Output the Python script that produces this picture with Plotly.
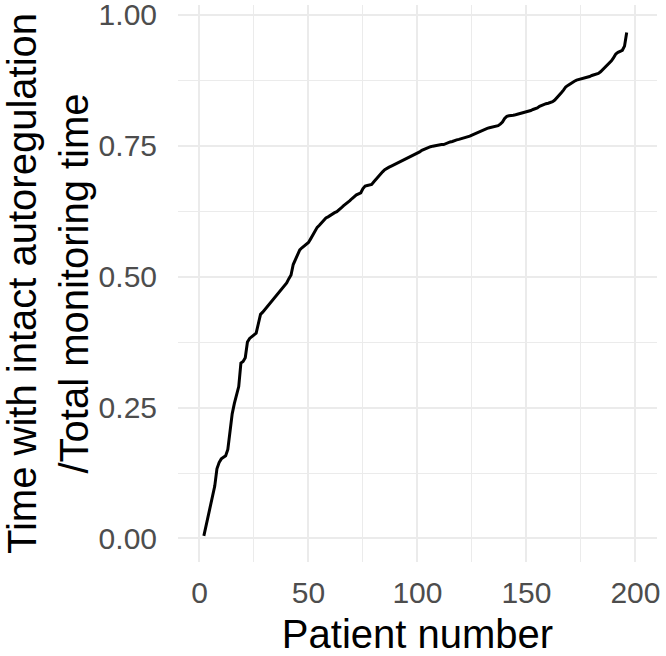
import plotly.graph_objects as go

# Patient number (rank) and sorted fraction of time with intact autoregulation
patient_number = list(range(2, 197))
intact_fraction = [
    0.005, 0.025, 0.045, 0.062, 0.080, 0.100, 0.133, 0.145, 0.152, 0.155,
    0.158, 0.170, 0.205, 0.238, 0.258, 0.272, 0.290, 0.335, 0.338, 0.345,
    0.375, 0.382, 0.385, 0.388, 0.392, 0.410, 0.428, 0.432, 0.437, 0.441,
    0.447, 0.452, 0.456, 0.462, 0.468, 0.472, 0.476, 0.481, 0.488, 0.496,
    0.503, 0.523, 0.532, 0.542, 0.551, 0.555, 0.558, 0.561, 0.565, 0.572,
    0.579, 0.587, 0.594, 0.598, 0.603, 0.608, 0.612, 0.614, 0.617, 0.619,
    0.622, 0.624, 0.627, 0.631, 0.635, 0.638, 0.641, 0.645, 0.649, 0.653,
    0.656, 0.658, 0.660, 0.668, 0.673, 0.674, 0.675, 0.676, 0.681, 0.686,
    0.692, 0.696, 0.700, 0.704, 0.707, 0.709, 0.711, 0.713, 0.715, 0.717,
    0.719, 0.721, 0.723, 0.725, 0.728, 0.730, 0.732, 0.734, 0.736, 0.738,
    0.741, 0.743, 0.745, 0.747, 0.748, 0.749, 0.750, 0.750, 0.751, 0.752,
    0.752, 0.754, 0.755, 0.757, 0.758, 0.760, 0.761, 0.762, 0.763, 0.764,
    0.766, 0.767, 0.768, 0.770, 0.772, 0.774, 0.775, 0.777, 0.779, 0.781,
    0.783, 0.784, 0.785, 0.786, 0.787, 0.788, 0.791, 0.795, 0.802, 0.806,
    0.807, 0.807, 0.808, 0.809, 0.810, 0.811, 0.812, 0.813, 0.815, 0.816,
    0.817, 0.819, 0.820, 0.822, 0.825, 0.827, 0.829, 0.830, 0.831, 0.832,
    0.834, 0.837, 0.841, 0.846, 0.851, 0.856, 0.862, 0.865, 0.868, 0.871,
    0.873, 0.875, 0.876, 0.878, 0.879, 0.880, 0.881, 0.882, 0.884, 0.885,
    0.886, 0.888, 0.891, 0.895, 0.899, 0.903, 0.908, 0.912, 0.918, 0.925,
    0.928, 0.930, 0.932, 0.940, 0.966,
]

x_ticks = [0, 50, 100, 150, 200]
x_minor = [25, 75, 125, 175]
y_ticks = [0.0, 0.25, 0.50, 0.75, 1.00]
y_minor = [0.125, 0.375, 0.625, 0.875]
y_tick_labels = ["0.00", "0.25", "0.50", "0.75", "1.00"]

FONT = "Liberation Sans, Arial, sans-serif"
GRID = "#EBEBEB"

fig = go.Figure()
fig.add_trace(go.Scatter(
    x=patient_number, y=intact_fraction, mode="lines",
    line=dict(color="black", width=3), showlegend=False,
))

fig.update_layout(
    width=666, height=656,
    margin=dict(l=178, r=9, t=5, b=94, autoexpand=False),
    paper_bgcolor="white", plot_bgcolor="white",
    font=dict(family=FONT, color="black"),
    xaxis=dict(
        range=[-9.86, 209.9], tickvals=x_ticks, ticktext=[str(v) for v in x_ticks],
        showgrid=True, gridcolor=GRID, gridwidth=2.2, zeroline=False, showline=False,
        ticks="", tickfont=dict(size=30, color="#4D4D4D", family=FONT),
        ticklabelstandoff=10, ticklabeloverflow="allow",
        minor=dict(tickvals=x_minor, showgrid=True, gridcolor=GRID, gridwidth=1.3),
        title=dict(text="Patient number", font=dict(size=40, color="black", family=FONT), standoff=12),
        automargin=False,
    ),
    yaxis=dict(
        range=[-0.0449, 1.0185], tickvals=y_ticks, ticktext=y_tick_labels,
        showgrid=True, gridcolor=GRID, gridwidth=2.2, zeroline=False, showline=False,
        ticks="", tickfont=dict(size=30, color="#4D4D4D", family=FONT),
        ticklabelstandoff=20, ticklabeloverflow="allow",
        minor=dict(tickvals=y_minor, showgrid=True, gridcolor=GRID, gridwidth=1.3),
        title=dict(text="Time with intact autoregulation<br>/Total monitoring time",
                   font=dict(size=40, color="black", family=FONT), standoff=8),
        automargin=False,
    ),
)

fig.write_html("out.html", config={"displayModeBar": False},
               post_script="document.body.style.margin='0';")
